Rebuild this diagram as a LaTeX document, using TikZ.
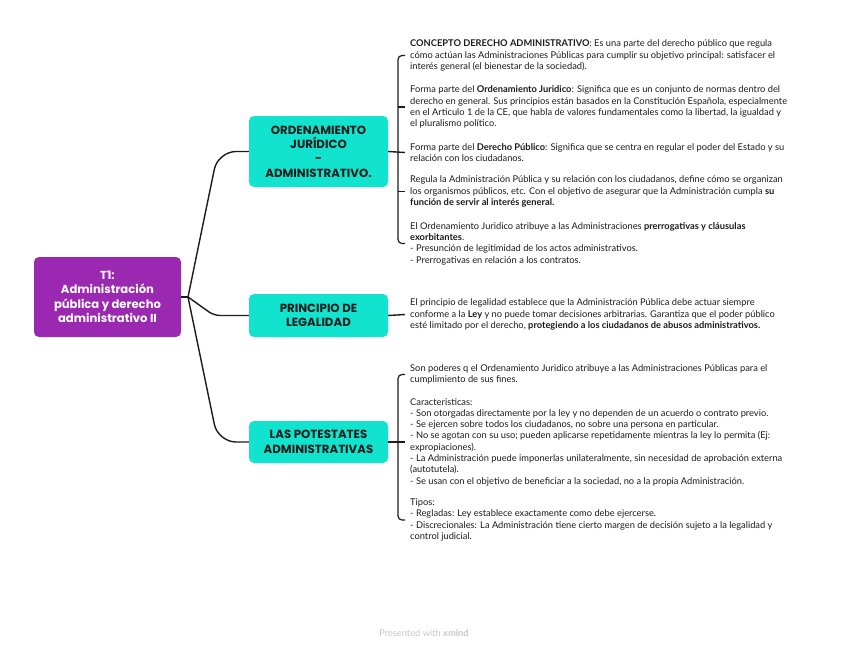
\documentclass[tikz,border=0pt]{standalone}
\usepackage{fontspec}
\setmainfont{Lato}
\newfontfamily\hdfont{Poppins}
\definecolor{tealbox}{HTML}{12E3CE}
\definecolor{purp}{HTML}{9B28B0}
\definecolor{ink}{HTML}{1C1C1C}
\begin{document}
\begin{tikzpicture}[x=1pt,y=-1pt,
  topic/.style={fill=tealbox, rounded corners=5pt, inner sep=0pt, align=center,
    minimum width=139pt, font=\hdfont\bfseries\fontsize{11.8}{14.4}\selectfont, text=ink},
  rootbox/.style={fill=purp, rounded corners=5pt, inner sep=0pt, align=center,
    minimum width=147pt, minimum height=80pt, font=\hdfont\bfseries\fontsize{11.6}{14.5}\selectfont, text=white},
  body/.style={anchor=west, inner sep=0pt, align=left, font=\fontsize{9.3}{11.3}\selectfont, text=ink},
  conn/.style={draw=ink, line width=1.4pt},
  brace/.style={draw=ink, line width=1.2pt, rounded corners=4pt}]
\useasboundingbox (0,0) rectangle (848,651);
\fill[white] (0,0) rectangle (848,651);

% main nodes
\node[rootbox] (root) at (107.5,297) {T1:\\Administración\\pública y derecho\\administrativo II};
\node[topic, minimum height=71pt] (ord) at (318.5,151.5) {ORDENAMIENTO\\JURÍDICO\\-\\ADMINISTRATIVO.};
\node[topic, minimum height=43pt] (pri) at (318.5,315.5) {PRINCIPIO DE\\LEGALIDAD};
\node[topic, minimum height=42pt] (pot) at (318.5,442) {LAS POTESTATES\\ADMINISTRATIVAS};

% root connectors
\coordinate (J) at (188,297);
\draw[conn] (root.east) -- (J);
\draw[conn, rounded corners=18pt] (J) -- (218,151.5) -- (ord.west);
\draw[conn, rounded corners=6pt] (J) -- (214,315.5) -- (pri.west);
\draw[conn, rounded corners=18pt] (J) -- (218,442) -- (pot.west);

% text blocks
\node[body] (b1) at (410,55.5) {\textbf{CONCEPTO DERECHO ADMINISTRATIVO}: Es una parte del derecho público que regula\\
cómo actúan las Administraciones Públicas para cumplir su objetivo principal: satisfacer el\\
interés general (el bienestar de la sociedad).};
\node[body] (b2) at (410,107) {Forma parte del \textbf{Ordenamiento Juridico}: Significa que es un conjunto de normas dentro del\\
derecho en general. Sus principios están basados en la Constitución Española, especialmente\\
en el Articulo 1 de la CE, que habla de valores fundamentales como la libertad, la igualdad y\\
el pluralismo político.};
\node[body] (b3) at (410,152.5) {Forma parte del \textbf{Derecho Público}: Significa que se centra en regular el poder del Estado y su\\
relación con los ciudadanos.};
\node[body] (b4) at (410,191.5) {Regula la Administración Pública y su relación con los ciudadanos, define cómo se organizan\\
los organismos públicos, etc. Con el objetivo de asegurar que la Administración cumpla \textbf{su}\\
\textbf{función de servir al interés general.}};
\node[body] (b5) at (410,243.5) {El Ordenamiento Juridico atribuye a las Administraciones \textbf{prerrogativas y cláusulas}\\
\textbf{exorbitantes}.\\
- Presunción de legitimidad de los actos administrativos.\\
- Prerrogativas en relación a los contratos.};

\node[body] (p1) at (410,314.5) {El principio de legalidad establece que la Administración Pública debe actuar siempre\\
conforme a la \textbf{Ley} y no puede tomar decisiones arbitrarias. Garantiza que el poder público\\
esté limitado por el derecho, \textbf{protegiendo a los ciudadanos de abusos administrativos.}};

\node[body] (l1) at (410,374.5) {Son poderes q el Ordenamiento Juridico atribuye a las Administraciones Públicas para el\\
cumplimiento de sus fines.};
\node[body] (l2) at (410,442) {Caracteristicas:\\
- Son otorgadas directamente por la ley y no dependen de un acuerdo o contrato previo.\\
- Se ejercen sobre todos los ciudadanos, no sobre una persona en particular.\\
- No se agotan con su uso; pueden aplicarse repetidamente mientras la ley lo permita (Ej:\\
expropiaciones).\\
- La Administración puede imponerlas unilateralmente, sin necesidad de aprobación externa\\
(autotutela).\\
- Se usan con el objetivo de beneficiar a la sociedad, no a la propia Administración.};
\node[body] (l3) at (410,520) {Tipos:\\
- Regladas: Ley establece exactamente como debe ejercerse.\\
- Discrecionales: La Administración tiene cierto margen de decisión sujeto a la legalidad y\\
control judicial.};

% brackets
\coordinate (bx) at (398,0);
\coordinate (bt) at (405,0);
\draw[conn] (ord.east) -- (b3.west -| bt);
\draw[brace] (b1.west -| bt) -- (b1.west -| bx) -- (b5.west -| bx) -- (b5.west -| bt);
\draw[brace] (b2.west -| bx) -- (b2.west -| bt);
\draw[brace] (b4.west -| bx) -- (b4.west -| bt);

\draw[conn] (pri.east) -- (p1.west -| bt);

\draw[conn] (pot.east) -- (l2.west -| bt);
\draw[brace] (l1.west -| bt) -- (l1.west -| bx) -- (l3.west -| bx) -- (l3.west -| bt);

\node[font=\fontsize{9.3}{10}\selectfont, text=black!22] (credit) at (424,633) {Presented with \textbf{xmind}};
\end{tikzpicture}
\end{document}
